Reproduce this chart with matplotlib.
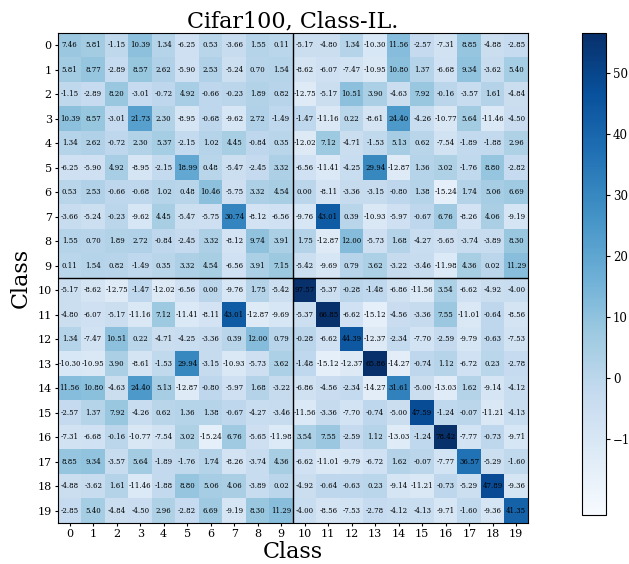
import numpy as np
from matplotlib import pyplot as plt

plt.rcParams['font.family'] = 'DejaVu Serif'

classes = list(range(20))
title = "Cifar100, Class-IL."

rows = [
    [7.46, 5.81, -1.15, 10.39, 1.34, -6.25, 0.53, -3.66, 1.55, 0.11, -5.17, -4.80, 1.34, -10.30, 11.56, -2.57, -7.31, 8.85, -4.88, -2.85],
    [5.81, 8.77, -2.89, 8.57, 2.62, -5.90, 2.53, -5.24, 0.70, 1.54, -8.62, -6.07, -7.47, -10.95, 10.80, 1.37, -6.68, 9.34, -3.62, 5.40],
    [-1.15, -2.89, 8.20, -3.01, -0.72, 4.92, -0.66, -0.23, 1.89, 0.82, -12.75, -5.17, 10.51, 3.90, -4.63, 7.92, -0.16, -3.57, 1.61, -4.84],
    [10.39, 8.57, -3.01, 21.73, 2.30, -8.95, -0.68, -9.62, 2.72, -1.49, -1.47, -11.16, 0.22, -8.61, 24.40, -4.26, -10.77, 5.64, -11.46, -4.50],
    [1.34, 2.62, -0.72, 2.30, 5.37, -2.15, 1.02, 4.45, -0.84, 0.35, -12.02, 7.12, -4.71, -1.53, 5.13, 0.62, -7.54, -1.89, -1.88, 2.96],
    [-6.25, -5.90, 4.92, -8.95, -2.15, 18.99, 0.48, -5.47, -2.45, 3.32, -6.56, -11.41, -4.25, 29.94, -12.87, 1.36, 3.02, -1.76, 8.80, -2.82],
    [0.53, 2.53, -0.66, -0.68, 1.02, 0.48, 10.46, -5.75, 3.32, 4.54, 0.00, -8.11, -3.36, -3.15, -0.80, 1.38, -15.24, 1.74, 5.06, 6.69],
    [-3.66, -5.24, -0.23, -9.62, 4.45, -5.47, -5.75, 30.74, -8.12, -6.56, -9.76, 43.01, 0.39, -10.93, -5.97, -0.67, 6.76, -8.26, 4.06, -9.19],
    [1.55, 0.70, 1.89, 2.72, -0.84, -2.45, 3.32, -8.12, 9.74, 3.91, 1.75, -12.87, 12.00, -5.73, 1.68, -4.27, -5.65, -3.74, -3.89, 8.30],
    [0.11, 1.54, 0.82, -1.49, 0.35, 3.32, 4.54, -6.56, 3.91, 7.15, -5.42, -9.69, 0.79, 3.62, -3.22, -3.46, -11.98, 4.36, 0.02, 11.29],
    [-5.17, -8.62, -12.75, -1.47, -12.02, -6.56, 0.00, -9.76, 1.75, -5.42, 97.57, -5.37, -0.28, -1.48, -6.86, -11.56, 3.54, -6.62, -4.92, -4.00],
    [-4.80, -6.07, -5.17, -11.16, 7.12, -11.41, -8.11, 43.01, -12.87, -9.69, -5.37, 66.85, -6.62, -15.12, -4.56, -3.36, 7.55, -11.01, -0.64, -8.56],
    [1.34, -7.47, 10.51, 0.22, -4.71, -4.25, -3.36, 0.39, 12.00, 0.79, -0.28, -6.62, 44.39, -12.37, -2.34, -7.70, -2.59, -9.79, -0.63, -7.53],
    [-10.30, -10.95, 3.90, -8.61, -1.53, 29.94, -3.15, -10.93, -5.73, 3.62, -1.48, -15.12, -12.37, 65.86, -14.27, -0.74, 1.12, -6.72, 0.23, -2.78],
    [11.56, 10.80, -4.63, 24.40, 5.13, -12.87, -0.80, -5.97, 1.68, -3.22, -6.86, -4.56, -2.34, -14.27, 31.61, -5.00, -13.03, 1.62, -9.14, -4.12],
    [-2.57, 1.37, 7.92, -4.26, 0.62, 1.36, 1.38, -0.67, -4.27, -3.46, -11.56, -3.36, -7.70, -0.74, -5.00, 47.59, -1.24, -0.07, -11.21, -4.13],
    [-7.31, -6.68, -0.16, -10.77, -7.54, 3.02, -15.24, 6.76, -5.65, -11.98, 3.54, 7.55, -2.59, 1.12, -13.03, -1.24, 78.42, -7.77, -0.73, -9.71],
    [8.85, 9.34, -3.57, 5.64, -1.89, -1.76, 1.74, -8.26, -3.74, 4.36, -6.62, -11.01, -9.79, -6.72, 1.62, -0.07, -7.77, 36.57, -5.29, -1.60],
    [-4.88, -3.62, 1.61, -11.46, -1.88, 8.80, 5.06, 4.06, -3.89, 0.02, -4.92, -0.64, -0.63, 0.23, -9.14, -11.21, -0.73, -5.29, 47.89, -9.36],
    [-2.85, 5.40, -4.84, -4.50, 2.96, -2.82, 6.69, -9.19, 8.30, 11.29, -4.00, -8.56, -7.53, -2.78, -4.12, -4.13, -9.71, -1.60, -9.36, 41.35],
]
mat = np.array(rows)

fig = plt.figure(figsize=(6.29, 5.64), dpi=100)
ax = fig.add_axes([58 / 629, 1 - 523 / 564, 470 / 629, 490 / 564])
cax = fig.add_axes([582 / 629, 1 - 515 / 564, 24 / 629, 482 / 564])

im = ax.imshow(mat, cmap='Blues', vmin=-22.5, vmax=56.5, aspect='auto')
for i in range(len(classes)):
    for j in range(len(classes)):
        ax.text(j, i, "%.2f" % mat[i, j], ha='center', va='center', fontsize=5, color='black')

ax.axvline(9.5, color='black', lw=1)
ax.axhline(9.5, color='black', lw=1)

ax.set_xticks(classes)
ax.set_yticks(classes)
ax.set_xticklabels(classes)
ax.set_yticklabels(classes)
ax.tick_params(labelsize=8, length=2.5, pad=2)
ax.set_xlabel("Class", fontsize=16, labelpad=1)
ax.set_ylabel("Class", fontsize=16, labelpad=4)
ax.set_title(title, fontsize=16, pad=4)

cb = fig.colorbar(im, cax=cax)
cb.set_ticks([-10, 0, 10, 20, 30, 40, 50])
cb.ax.tick_params(labelsize=8.5, length=3, pad=2)

plt.savefig('out.png', dpi=100)
